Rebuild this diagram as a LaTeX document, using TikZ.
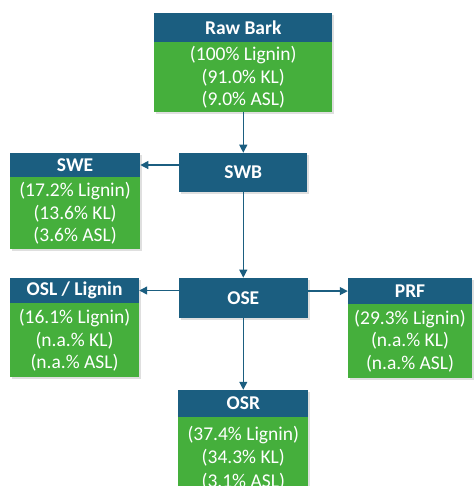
\documentclass[tikz,border=0pt]{standalone}
\usepackage{fontspec}
\setmainfont{Carlito}
\usetikzlibrary{arrows.meta,shadows}
\definecolor{barkhead}{HTML}{1B5E80}
\definecolor{barkbody}{HTML}{45AF3C}
\begin{document}
\begin{tikzpicture}[
    head/.style={rectangle, fill=barkhead, text=white, inner sep=0pt, font=\fontsize{19.5}{22}\selectfont\bfseries,
        drop shadow={opacity=0.25, shadow xshift=2pt, shadow yshift=-2pt}},
    body/.style={rectangle, fill=barkbody, text=white, inner sep=0pt, align=center, anchor=north, font=\fontsize{19.5}{22.5}\selectfont,
        drop shadow={opacity=0.25, shadow xshift=2pt, shadow yshift=-2pt}},
    link/.style={-{Triangle[length=8pt,width=8pt]}, line width=1.2pt, draw=barkhead}
]
            \clip (0,0) rectangle (16.66,17.08);

            % Raw bark
            \node[head, minimum width=6.26cm, minimum height=1.02cm] (rawhead) at (8.55,16.12) {Raw Bark};
            \node[body, minimum width=6.26cm, minimum height=2.46cm] (rawbody) at (rawhead.south)
                {(100\% Lignin)\\(91.0\% KL)\\(9.0\% ASL)};

            % SWB and SWE
            \node[head, minimum width=4.50cm, minimum height=1.37cm] (swb) at (8.55,11.02) {SWB};
            \node[head, minimum width=4.57cm, minimum height=0.84cm] (swehead) at (2.64,11.28) {SWE};
            \node[body, minimum width=4.57cm, minimum height=2.53cm] (swebody) at (swehead.south)
                {(17.2\% Lignin)\\(13.6\% KL)\\(3.6\% ASL)};

            \draw[link] (rawbody.south) -- (swb.north);
            \draw[link] (swb.west |- swehead.east) -- (swehead.east);

            % OSE and its products
            \node[head, minimum width=4.53cm, minimum height=1.41cm] (ose) at (8.55,6.61) {OSE};
            \node[head, minimum width=4.53cm, minimum height=0.88cm] (oslhead) at (2.62,6.87) {OSL / Lignin};
            \node[body, minimum width=4.53cm, minimum height=2.60cm] (oslbody) at (oslhead.south)
                {(16.1\% Lignin)\\(n.a.\% KL)\\(n.a.\% ASL)};
            \node[head, minimum width=4.36cm, minimum height=0.91cm] (prfhead) at (14.41,6.85) {PRF};
            \node[body, minimum width=4.36cm, minimum height=2.57cm] (prfbody) at (prfhead.south)
                {(29.3\% Lignin)\\(n.a.\% KL)\\(n.a.\% ASL)};
            \node[head, minimum width=4.57cm, minimum height=0.95cm] (osrhead) at (8.55,2.90) {OSR};
            \node[body, minimum width=4.57cm, minimum height=2.85cm, font=\fontsize{19.5}{23.5}\selectfont] (osrbody) at (osrhead.south)
                {(37.4\% Lignin)\\(34.3\% KL)\\(3.1\% ASL)};

            \draw[link] (swb.south) -- (ose.north);
            \draw[link] (ose.west |- oslhead.east) -- (oslhead.east);
            \draw[link] (ose.east |- prfhead.west) -- (prfhead.west);
            \draw[link] (ose.south) -- (osrhead.north);
\end{tikzpicture}
\end{document}
